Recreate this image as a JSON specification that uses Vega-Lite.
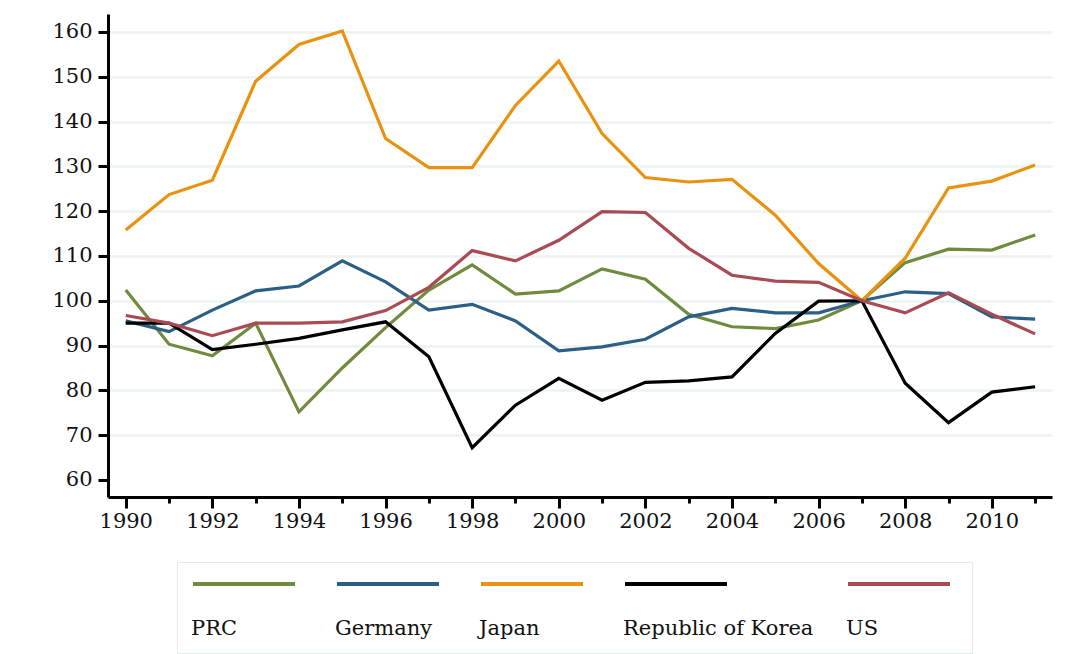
{
  "$schema": "https://vega.github.io/schema/vega-lite/v6.json",
  "autosize": {"type": "none"},
  "width": 944,
  "height": 483,
  "padding": {"left": 108, "top": 14, "right": 19, "bottom": 157},
  "background": "white",
  "config": {"view": {"stroke": null}},
  "data": {"values": [
    {"year":1990,"country":"PRC","value":102.4},{"year":1991,"country":"PRC","value":90.3},{"year":1992,"country":"PRC","value":87.7},{"year":1993,"country":"PRC","value":95.0},{"year":1994,"country":"PRC","value":75.2},{"year":1995,"country":"PRC","value":85.0},{"year":1996,"country":"PRC","value":94.0},{"year":1997,"country":"PRC","value":102.4},{"year":1998,"country":"PRC","value":108.0},{"year":1999,"country":"PRC","value":101.5},{"year":2000,"country":"PRC","value":102.2},{"year":2001,"country":"PRC","value":107.1},{"year":2002,"country":"PRC","value":104.8},{"year":2003,"country":"PRC","value":97.0},{"year":2004,"country":"PRC","value":94.2},{"year":2005,"country":"PRC","value":93.8},{"year":2006,"country":"PRC","value":95.7},{"year":2007,"country":"PRC","value":100.0},{"year":2008,"country":"PRC","value":108.5},{"year":2009,"country":"PRC","value":111.5},{"year":2010,"country":"PRC","value":111.3},{"year":2011,"country":"PRC","value":114.7},
    {"year":1990,"country":"Germany","value":95.5},{"year":1991,"country":"Germany","value":93.1},{"year":1992,"country":"Germany","value":97.9},{"year":1993,"country":"Germany","value":102.2},{"year":1994,"country":"Germany","value":103.3},{"year":1995,"country":"Germany","value":108.9},{"year":1996,"country":"Germany","value":104.2},{"year":1997,"country":"Germany","value":97.9},{"year":1998,"country":"Germany","value":99.2},{"year":1999,"country":"Germany","value":95.5},{"year":2000,"country":"Germany","value":88.8},{"year":2001,"country":"Germany","value":89.7},{"year":2002,"country":"Germany","value":91.4},{"year":2003,"country":"Germany","value":96.4},{"year":2004,"country":"Germany","value":98.3},{"year":2005,"country":"Germany","value":97.3},{"year":2006,"country":"Germany","value":97.3},{"year":2007,"country":"Germany","value":100.0},{"year":2008,"country":"Germany","value":102.0},{"year":2009,"country":"Germany","value":101.6},{"year":2010,"country":"Germany","value":96.4},{"year":2011,"country":"Germany","value":95.9},
    {"year":1990,"country":"Japan","value":115.8},{"year":1991,"country":"Japan","value":123.7},{"year":1992,"country":"Japan","value":126.9},{"year":1993,"country":"Japan","value":149.0},{"year":1994,"country":"Japan","value":157.2},{"year":1995,"country":"Japan","value":160.2},{"year":1996,"country":"Japan","value":136.2},{"year":1997,"country":"Japan","value":129.7},{"year":1998,"country":"Japan","value":129.7},{"year":1999,"country":"Japan","value":143.6},{"year":2000,"country":"Japan","value":153.5},{"year":2001,"country":"Japan","value":137.3},{"year":2002,"country":"Japan","value":127.5},{"year":2003,"country":"Japan","value":126.5},{"year":2004,"country":"Japan","value":127.1},{"year":2005,"country":"Japan","value":119.1},{"year":2006,"country":"Japan","value":108.3},{"year":2007,"country":"Japan","value":100.0},{"year":2008,"country":"Japan","value":109.5},{"year":2009,"country":"Japan","value":125.2},{"year":2010,"country":"Japan","value":126.7},{"year":2011,"country":"Japan","value":130.3},
    {"year":1990,"country":"Republic of Korea","value":95.0},{"year":1991,"country":"Republic of Korea","value":95.0},{"year":1992,"country":"Republic of Korea","value":89.1},{"year":1993,"country":"Republic of Korea","value":90.3},{"year":1994,"country":"Republic of Korea","value":91.6},{"year":1995,"country":"Republic of Korea","value":93.5},{"year":1996,"country":"Republic of Korea","value":95.3},{"year":1997,"country":"Republic of Korea","value":87.5},{"year":1998,"country":"Republic of Korea","value":67.2},{"year":1999,"country":"Republic of Korea","value":76.7},{"year":2000,"country":"Republic of Korea","value":82.7},{"year":2001,"country":"Republic of Korea","value":77.8},{"year":2002,"country":"Republic of Korea","value":81.8},{"year":2003,"country":"Republic of Korea","value":82.1},{"year":2004,"country":"Republic of Korea","value":83.0},{"year":2005,"country":"Republic of Korea","value":92.7},{"year":2006,"country":"Republic of Korea","value":99.9},{"year":2007,"country":"Republic of Korea","value":100.0},{"year":2008,"country":"Republic of Korea","value":81.6},{"year":2009,"country":"Republic of Korea","value":72.8},{"year":2010,"country":"Republic of Korea","value":79.6},{"year":2011,"country":"Republic of Korea","value":80.8},
    {"year":1990,"country":"US","value":96.7},{"year":1991,"country":"US","value":95.0},{"year":1992,"country":"US","value":92.2},{"year":1993,"country":"US","value":95.0},{"year":1994,"country":"US","value":95.0},{"year":1995,"country":"US","value":95.3},{"year":1996,"country":"US","value":97.8},{"year":1997,"country":"US","value":103.0},{"year":1998,"country":"US","value":111.2},{"year":1999,"country":"US","value":108.9},{"year":2000,"country":"US","value":113.5},{"year":2001,"country":"US","value":119.9},{"year":2002,"country":"US","value":119.7},{"year":2003,"country":"US","value":111.7},{"year":2004,"country":"US","value":105.7},{"year":2005,"country":"US","value":104.4},{"year":2006,"country":"US","value":104.1},{"year":2007,"country":"US","value":100.0},{"year":2008,"country":"US","value":97.3},{"year":2009,"country":"US","value":101.8},{"year":2010,"country":"US","value":97.0},{"year":2011,"country":"US","value":92.6}
  ]},
  "mark": {"type": "line", "strokeWidth": 3.2, "strokeJoin": "miter"},
  "encoding": {
    "x": {
      "field": "year", "type": "quantitative",
      "scale": {"domain": [1989.59, 2011.39], "nice": false, "zero": false},
      "axis": {
        "title": null,
        "values": [1990,1991,1992,1993,1994,1995,1996,1997,1998,1999,2000,2001,2002,2003,2004,2005,2006,2007,2008,2009,2010,2011],
        "format": "d",
        "labelExpr": "datum.value % 2 === 0 ? datum.label : ''",
        "grid": false,
        "domainColor": "#000000",
        "domainWidth": 3,
        "tickColor": "#000000",
        "tickWidth": 3,
        "tickSize": {"condition": {"test": "datum.value % 2 === 0", "value": 11}, "value": 6},
        "labelFont": "DejaVu Serif",
        "labelFontSize": 21,
        "labelColor": "#111111",
        "labelPadding": 2,
        "labelOverlap": false,
        "labelFlush": false
      }
    },
    "y": {
      "field": "value", "type": "quantitative",
      "scale": {"domain": [56.2, 164], "nice": false, "zero": false},
      "axis": {
        "title": null,
        "values": [60,70,80,90,100,110,120,130,140,150,160],
        "grid": true,
        "gridColor": {"condition": {"test": "datum.value === 60", "value": "rgba(0,0,0,0)"}, "value": "#edf3f1"},
        "gridWidth": 2.5,
        "domainColor": "#000000",
        "domainWidth": 3,
        "tickColor": "#000000",
        "tickWidth": 3,
        "tickSize": 10,
        "labelFont": "DejaVu Serif",
        "labelFontSize": 21,
        "labelColor": "#111111",
        "labelPadding": 6
      }
    },
    "color": {
      "field": "country", "type": "nominal",
      "scale": {
        "domain": ["PRC", "Germany", "Japan", "Republic of Korea", "US"],
        "range": ["#6f8b3e", "#2b5f85", "#e8920f", "#000000", "#a84b55"]
      },
      "legend": {
        "title": null,
        "orient": "none",
        "legendX": 69,
        "legendY": 548,
        "direction": "horizontal",
        "columns": 5,
        "columnPadding": 26,
        "symbolType": "M-1,-0.88L1,-0.88",
        "symbolSize": 10404,
        "symbolStrokeWidth": 4,
        "labelOffset": -106,
        "labelFont": "DejaVu Serif",
        "labelFontSize": 21,
        "labelColor": "#111111",
        "labelLimit": 400,
        "padding": 14,
        "strokeColor": "#e4ecea",
        "fillColor": "#ffffff"
      }
    }
  }
}
